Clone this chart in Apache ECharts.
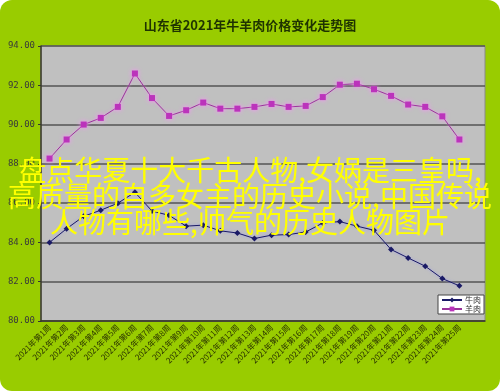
<!DOCTYPE html>
<html>
<head>
<meta charset="utf-8">
<script src="https://cdn.jsdelivr.net/npm/echarts@6/dist/echarts.min.js"></script>
<style>
html,body{margin:0;padding:0;background:#ffffff;}
#c{width:500px;height:391px;background:#99cc00;border-radius:12px;overflow:hidden;}
</style>
</head>
<body>
<div id="c"></div>
<script>
var titleText = '山东省2021年牛羊肉价格变化走势图';
var categories = [];
for (var i = 1; i <= 25; i++) { categories.push('2021年第' + i + '周'); }
categories.push('');
var beefName = '牛肉';
var muttonName = '羊肉';
var beef = [84.0, 84.7, 85.33, 85.64, 86.0, 86.55, 85.6, 85.38, 84.83, 84.88, 84.59, 84.48, 84.2, 84.37, 84.4, 84.53, 84.99, 85.06, 84.83, 84.62, 83.64, 83.21, 82.79, 82.16, 81.79];
var mutton = [88.27, 89.24, 90.0, 90.34, 90.9, 92.6, 91.35, 90.44, 90.73, 91.12, 90.81, 90.81, 90.9, 91.05, 90.9, 90.95, 91.4, 92.03, 92.08, 91.8, 91.46, 91.02, 90.9, 90.42, 89.24];
var yMin = 80, yMax = 94, yStep = 2;
var overlayLines = ['盘点华夏十大千古人物,女娲是三皇吗,', '高质量的自多女主的历史小说,中国传说', '人物有哪些,帅气的历史人物图片'];

var chart = echarts.init(document.getElementById('c'));
var font = '"Noto Sans CJK SC", "DejaVu Sans", sans-serif';
chart.setOption({
  backgroundColor: 'transparent',
  animation: false,
  title: {
    text: titleText,
    left: 'center',
    top: 14,
    textStyle: { fontSize: 13, fontWeight: 'bold', color: '#1f3300', fontFamily: font }
  },
  grid: {
    left: 41, right: 15, top: 46, bottom: 70,
    show: true, backgroundColor: '#c0c0c0', borderColor: '#8a8a8a', borderWidth: 1
  },
  legend: {
    orient: 'vertical',
    right: 16, top: 295,
    itemWidth: 20, itemHeight: 6, itemGap: 1,
    padding: [1, 3, 1, 3],
    backgroundColor: '#ffffff', borderColor: '#444', borderWidth: 1,
    textStyle: { fontSize: 8, color: '#333', fontFamily: font, padding: [0, 0, 0, -2] },
    data: [beefName, muttonName]
  },
  xAxis: {
    type: 'category',
    data: categories,
    boundaryGap: true,
    axisLine: { lineStyle: { color: '#3a3a2a', width: 1.5 } },
    axisTick: { inside: true, length: 4, interval: 0, lineStyle: { color: '#333' } },
    axisLabel: { interval: 0, rotate: 45, fontSize: 8, color: '#2a3300', fontFamily: font, margin: 5 },
    splitLine: { show: false }
  },
  yAxis: {
    type: 'value',
    min: yMin, max: yMax, interval: yStep,
    axisLine: { show: true, lineStyle: { color: '#3a3a2a', width: 1.5 } },
    axisTick: { show: true, length: 3, lineStyle: { color: '#333' } },
    axisLabel: { formatter: function (v) { return v.toFixed(2); }, fontSize: 9, color: '#3a3a3a', fontFamily: '"DejaVu Sans Mono", monospace', margin: 6 },
    splitLine: { lineStyle: { color: '#555555', width: 1.5 } }
  },
  series: [
    {
      name: beefName, type: 'line', data: beef,
      symbol: 'diamond', symbolSize: 6,
      itemStyle: { color: '#1a1a66' },
      lineStyle: { color: '#1a1a66', width: 1, shadowColor: 'rgba(140,140,255,0.8)', shadowBlur: 3 },
      z: 3
    },
    {
      name: muttonName, type: 'line', data: mutton,
      symbol: 'rect', symbolSize: 6,
      itemStyle: { color: '#bb33bb', shadowColor: '#ff88ff', shadowBlur: 5 },
      lineStyle: { color: '#993399', width: 1, shadowColor: 'rgba(255,140,255,0.8)', shadowBlur: 3 },
      z: 3
    }
  ],
  graphic: overlayLines.map(function (t, k) {
    return {
      type: 'text', z: 100, zlevel: 1,
      left: 'center', top: 156 + k * 26,
      style: { text: t, fill: '#ffff00', font: '28px "Noto Sans CJK SC", sans-serif' }
    };
  })
});
</script>
</body>
</html>
